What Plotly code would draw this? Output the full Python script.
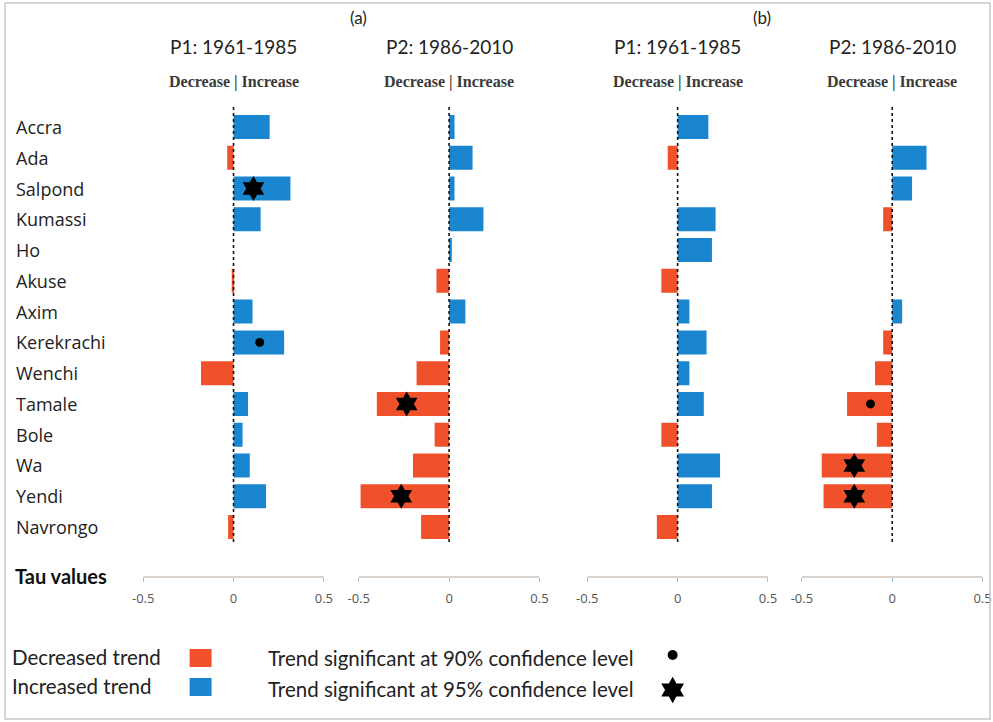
import plotly.graph_objects as go

stations = ["Accra", "Ada", "Salpond", "Kumassi", "Ho", "Akuse", "Axim", "Kerekrachi",
            "Wenchi", "Tamale", "Bole", "Wa", "Yendi", "Navrongo"]

# Tau values (Mann-Kendall) per panel
tau_a_p1 = [0.20, -0.035, 0.315, 0.15, 0.0, -0.01, 0.105, 0.28, -0.18, 0.08, 0.05, 0.09, 0.18, -0.03]
tau_a_p2 = [0.03, 0.13, 0.03, 0.19, 0.015, -0.07, 0.09, -0.05, -0.18, -0.40, -0.08, -0.20, -0.49, -0.155]
tau_b_p1 = [0.17, -0.055, 0.0, 0.21, 0.19, -0.09, 0.065, 0.16, 0.065, 0.145, -0.09, 0.235, 0.19, -0.115]
tau_b_p2 = [0.0, 0.19, 0.11, -0.05, 0.0, 0.0, 0.055, -0.05, -0.095, -0.25, -0.085, -0.39, -0.38, 0.0]

# significance markers: (station, level, marker x position)
sig_a_p1 = [("Salpond", 95, 0.11), ("Kerekrachi", 90, 0.145)]
sig_a_p2 = [("Tamale", 95, -0.235), ("Yendi", 95, -0.265)]
sig_b_p1 = []
sig_b_p2 = [("Tamale", 90, -0.12), ("Wa", 95, -0.21), ("Yendi", 95, -0.21)]

panel_titles = ["P1: 1961-1985", "P2: 1986-2010", "P1: 1961-1985", "P2: 1986-2010"]
tick_vals = [-0.5, 0, 0.5]
tick_text = ["-0.5", "0", "0.5"]

legend_labels = ["Decreased trend", "Increased trend"]
legend_sig_labels = ["Trend significant at 90% confidence level",
                     "Trend significant at 95% confidence level"]
legend_sig_levels = [90, 95]

RED = "#F0502A"
BLUE = "#1A86CF"
W, H = 993, 722
TOP, BOT = 108, 577
ROW0, ROWSTEP = 127, 30.77


def px_x(p):
    return p / W


def px_y(p):
    return 1 - p / H


def row_y(p):
    return (p - ROW0) / ROWSTEP


def sym(level):
    return "circle" if level == 90 else "hexagram"


def msize(level):
    return 9 if level == 90 else 19


panels = [tau_a_p1, tau_a_p2, tau_b_p1, tau_b_p2]
sigs = [sig_a_p1, sig_a_p2, sig_b_p1, sig_b_p2]
zero_px = [232, 448, 677, 892]
PX_PER_UNIT = 181
XR = 0.55

fig = go.Figure()
layout = dict(
    width=W, height=H,
    margin=dict(l=0, r=0, t=0, b=0, pad=0),
    paper_bgcolor="white", plot_bgcolor="rgba(0,0,0,0)",
    showlegend=False, bargap=0.22,
)

shapes = []
annotations = []
idx = {s: i for i, s in enumerate(stations)}
ypos = list(range(len(stations)))

for k, vals in enumerate(panels):
    ax = "x" if k == 0 else f"x{k+1}"
    axkey = "xaxis" if k == 0 else f"xaxis{k+1}"
    half = XR * PX_PER_UNIT
    layout[axkey] = dict(
        domain=[px_x(zero_px[k] - half), px_x(zero_px[k] + half)],
        range=[-XR, XR], anchor="y",
        showgrid=False, zeroline=False, showline=False,
        tickvals=tick_vals, ticktext=tick_text,
        ticks="outside", ticklen=4, tickwidth=1, tickcolor="#9fbfd6",
        tickfont=dict(family="Open Sans", size=13, color="#555555"),
        ticklabelstandoff=5,
    )
    colors = [RED if v < 0 else BLUE for v in vals]
    fig.add_trace(go.Bar(
        x=vals, y=ypos, orientation="h", marker=dict(color=colors, line=dict(width=0)),
        xaxis=ax, yaxis="y", width=0.78,
    ))
    s = sigs[k]
    if s:
        fig.add_trace(go.Scatter(
            x=[t[2] for t in s], y=[idx[t[0]] for t in s], mode="markers",
            marker=dict(symbol=[sym(t[1]) for t in s], size=[msize(t[1]) for t in s],
                        color="black", opacity=1, line=dict(width=0)),
            opacity=1, xaxis=ax, yaxis="y",
        ))
    xref = ax
    # dashed zero line
    shapes.append(dict(type="line", xref=xref, yref="paper", x0=0, x1=0,
                       y0=px_y(542), y1=px_y(107),
                       line=dict(color="#111111", width=1.6, dash="dot"), layer="above"))
    # tau axis line
    shapes.append(dict(type="line", xref=xref, yref="paper", x0=-0.5, x1=0.5,
                       y0=px_y(577), y1=px_y(577),
                       line=dict(color="#d9d2cc", width=2), layer="below"))
    # titles
    annotations.append(dict(text=panel_titles[k], xref=xref, yref="paper", x=0, y=px_y(46),
                            showarrow=False, xanchor="center", yanchor="middle",
                            font=dict(family="Lato", size=19, color="#222222")))
    annotations.append(dict(text="<b>Decrease | Increase</b>", xref=xref, yref="paper", x=0, y=px_y(82),
                            showarrow=False, xanchor="center", yanchor="middle",
                            font=dict(family="Liberation Serif", size=16, color="#3a3a3a")))

layout["yaxis"] = dict(
    domain=[px_y(BOT), px_y(TOP)], range=[row_y(BOT), row_y(TOP)],
    showgrid=False, zeroline=False, showline=False, showticklabels=False, ticks="",
    anchor="x",
)

# station labels
for i, s in enumerate(stations):
    annotations.append(dict(text=s, xref="paper", yref="y", x=px_x(12), y=i,
                            showarrow=False, xanchor="left", yanchor="middle",
                            font=dict(family="Open Sans", size=18, color="#222222")))

# panel group labels
annotations.append(dict(text="(a)", xref="paper", yref="paper", x=px_x(357), y=px_y(18),
                        yanchor="middle", showarrow=False,
                        font=dict(family="Lato", size=17, color="#222222")))
annotations.append(dict(text="(b)", xref="paper", yref="paper", x=px_x(773), y=px_y(18),
                        yanchor="middle", showarrow=False,
                        font=dict(family="Lato", size=17, color="#222222")))
annotations.append(dict(text="<b>Tau values</b>", xref="paper", yref="paper", x=px_x(11), y=px_y(576),
                        xanchor="left", yanchor="middle", showarrow=False,
                        font=dict(family="Lato", size=20, color="#111111")))

# legend: colour keys
for j, (t, c) in enumerate(zip(legend_labels, [RED, BLUE])):
    yc = 657 + 29 * j
    annotations.append(dict(text=t, xref="paper", yref="paper", x=px_x(8), y=px_y(yc),
                            xanchor="left", yanchor="middle", showarrow=False,
                            font=dict(family="Lato", size=20.5, color="#222222")))
    shapes.append(dict(type="rect", xref="paper", yref="paper", x0=px_x(188), x1=px_x(210),
                       y0=px_y(yc + 10), y1=px_y(yc - 8), fillcolor=c, line=dict(width=0)))
# legend: significance keys
for j, t in enumerate(legend_sig_labels):
    yc = 658 + 31 * j
    annotations.append(dict(text=t, xref="paper", yref="paper", x=px_x(265), y=px_y(yc),
                            xanchor="left", yanchor="middle", showarrow=False,
                            font=dict(family="Lato", size=20.5, color="#222222")))
fig.add_trace(go.Scatter(
    x=[0, 0], y=[0, 1], mode="markers",
    marker=dict(symbol=[sym(l) for l in legend_sig_levels],
                size=[10, 20], color="black", opacity=1, line=dict(width=0)),
    xaxis="x5", yaxis="y2", cliponaxis=False,
))
layout["xaxis5"] = dict(domain=[px_x(662), px_x(682)], range=[-1, 1], visible=False, anchor="y2")
layout["yaxis2"] = dict(domain=[px_y(690), px_y(655)], range=[1, 0], visible=False, anchor="x5")

# outer frame
shapes.append(dict(type="rect", xref="paper", yref="paper", x0=px_x(3), x1=px_x(990),
                   y0=px_y(719), y1=px_y(3), line=dict(color="#c8c8c8", width=1.5),
                   fillcolor="rgba(0,0,0,0)"))

layout["shapes"] = shapes
layout["annotations"] = annotations
fig.update_layout(**layout)
fig.write_html("out.html")
